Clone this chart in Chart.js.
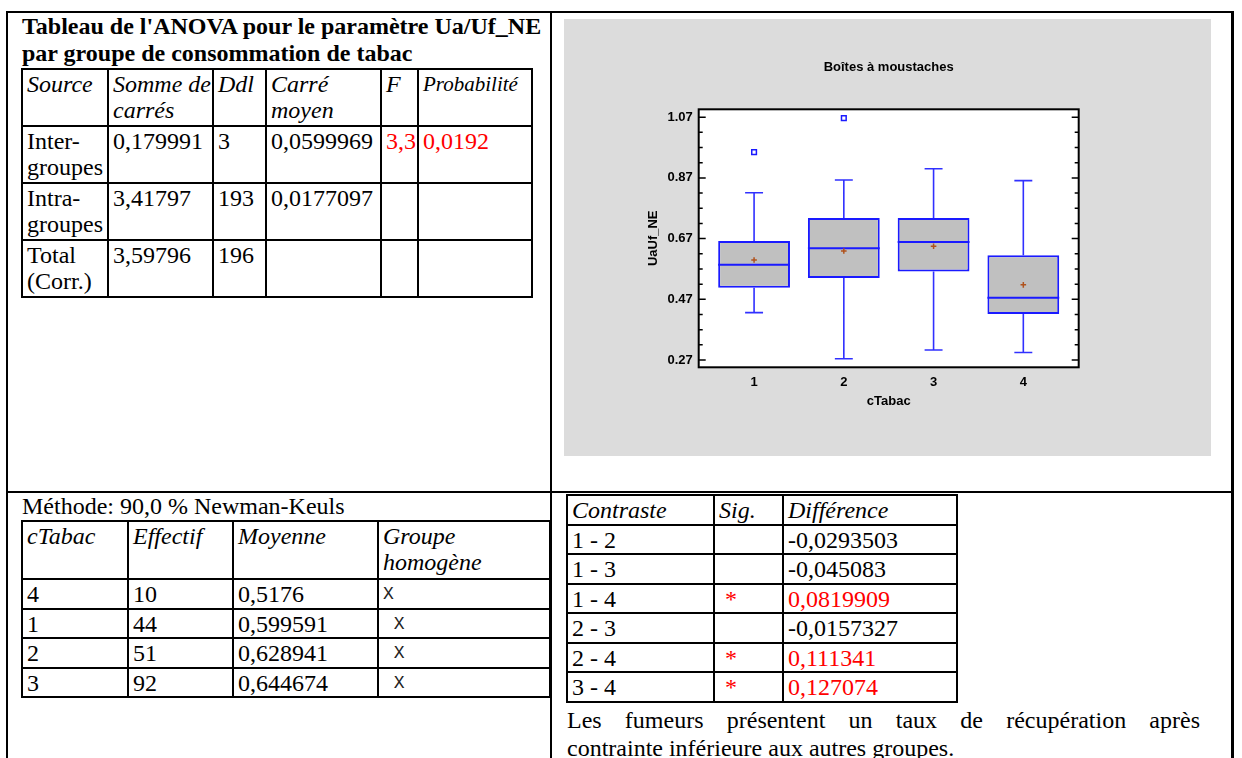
<!DOCTYPE html>
<html lang="fr">
<head>
<meta charset="utf-8">
<title>ANOVA Ua/Uf_NE par groupe de consommation de tabac</title>
<script src="https://cdn.jsdelivr.net/npm/chart.js@4.4.1/dist/chart.umd.min.js"></script>
<style>
  html, body { margin: 0; padding: 0; background: #fff; }
  body {
    width: 1242px; height: 758px; overflow: hidden; position: relative;
    font-family: "Liberation Serif", "Times New Roman", serif; font-size: 24px; color: #000;
  }
  .rule { position: absolute; background: #000; }
  .txt { position: absolute; line-height: 26px; white-space: nowrap; }
  table.doc { position: absolute; border-collapse: collapse; table-layout: fixed; }
  table.doc td {
    border: 2px solid #000; padding: 1px 0 0 4px; vertical-align: top;
    line-height: 26px; white-space: nowrap; overflow: visible;
  }
  .it { font-style: italic; }
  .red { color: #f00; }
  .mono { font-family: "Liberation Mono", "Courier New", monospace; font-size: 18px; color: #222; }
  #panel { position: absolute; left: 564px; top: 19px; }
</style>
</head>
<body>

<!-- cadre du document -->
<div class="rule" style="left:6px; top:11px; width:2px; height:760px"></div>
<div class="rule" style="left:6px; top:11px; width:1228px; height:2px"></div>
<div class="rule" style="left:1231px; top:11px; width:3px; height:760px"></div>
<div class="rule" style="left:550px; top:11px; width:2px; height:760px"></div>
<div class="rule" style="left:6px; top:491px; width:1228px; height:2px"></div>

<!-- tableau ANOVA -->
<div class="txt" style="left:22px; top:13px; font-weight:bold; line-height:27px">Tableau de l'ANOVA pour le paramètre Ua/Uf_NE<br>par groupe de consommation de tabac</div>
<table class="doc" style="left:21px; top:68px; width:512px">
  <colgroup><col style="width:86px"><col style="width:105px"><col style="width:53px"><col style="width:115px"><col style="width:37px"><col style="width:114px"></colgroup>
  <tr style="height:57px"><td class="it">Source</td><td class="it">Somme de<br>carrés</td><td class="it">Ddl</td><td class="it">Carré<br>moyen</td><td class="it">F</td><td class="it" style="font-size:21px">Probabilité</td></tr>
  <tr style="height:57px"><td>Inter-<br>groupes</td><td>0,179991</td><td>3</td><td>0,0599969</td><td class="red">3,3</td><td class="red">0,0192</td></tr>
  <tr style="height:57px"><td>Intra-<br>groupes</td><td>3,41797</td><td>193</td><td>0,0177097</td><td></td><td></td></tr>
  <tr style="height:57px"><td>Total<br>(Corr.)</td><td>3,59796</td><td>196</td><td></td><td></td><td></td></tr>
</table>

<!-- graphique -->
<canvas id="panel" width="647" height="437"></canvas>

<!-- Newman-Keuls -->
<div class="txt" style="left:22px; top:493px">Méthode: 90,0 % Newman-Keuls</div>
<table class="doc" style="left:21px; top:520px; width:530px">
  <colgroup><col style="width:106px"><col style="width:105px"><col style="width:145px"><col style="width:172px"></colgroup>
  <tr style="height:58px"><td class="it">cTabac</td><td class="it">Effectif</td><td class="it">Moyenne</td><td class="it">Groupe<br>homogène</td></tr>
  <tr style="height:29.5px"><td>4</td><td>10</td><td>0,5176</td><td class="mono">X</td></tr>
  <tr style="height:29.5px"><td>1</td><td>44</td><td>0,599591</td><td class="mono">&nbsp;X</td></tr>
  <tr style="height:29.5px"><td>2</td><td>51</td><td>0,628941</td><td class="mono">&nbsp;X</td></tr>
  <tr style="height:29.5px"><td>3</td><td>92</td><td>0,644674</td><td class="mono">&nbsp;X</td></tr>
</table>

<!-- contrastes -->
<table class="doc" style="left:566px; top:494px; width:392px">
  <colgroup><col style="width:147px"><col style="width:69px"><col style="width:174px"></colgroup>
  <tr style="height:29.5px"><td class="it">Contraste</td><td class="it">Sig.</td><td class="it">Différence</td></tr>
  <tr style="height:29.5px"><td>1 - 2</td><td></td><td>-0,0293503</td></tr>
  <tr style="height:29.5px"><td>1 - 3</td><td></td><td>-0,045083</td></tr>
  <tr style="height:29.5px"><td>1 - 4</td><td class="red">&nbsp;*</td><td class="red">0,0819909</td></tr>
  <tr style="height:29.5px"><td>2 - 3</td><td></td><td>-0,0157327</td></tr>
  <tr style="height:29.5px"><td>2 - 4</td><td class="red">&nbsp;*</td><td class="red">0,111341</td></tr>
  <tr style="height:29.5px"><td>3 - 4</td><td class="red">&nbsp;*</td><td class="red">0,127074</td></tr>
</table>
<div class="txt" style="left:567px; top:707px; width:633px; text-align:justify; text-align-last:justify">Les fumeurs présentent un taux de récupération après</div>
<div class="txt" style="left:567px; top:735px">contrainte inférieure aux autres groupes.</div>

<script>
// groupes de consommation de tabac
const xLabels = ['1', '2', '3', '4'];
const xPositions = [1, 2, 3, 4];

// boîtes à moustaches
const lowerWhisker = [0.426, 0.274, 0.303, 0.295];
const lowerQuartile = [0.508, 0.540, 0.562, 0.422];
const medians = [0.584, 0.638, 0.659, 0.475];
const upperQuartile = [0.662, 0.738, 0.738, 0.615];
const upperWhisker = [0.821, 0.863, 0.900, 0.861];
const means = [0.599591, 0.628941, 0.644674, 0.5176];

// points isolés
const outlierX = [1, 2];
const outlierY = [0.955, 1.067];

// graduations de l'axe vertical
const yMajorTicks = [0.27, 0.47, 0.67, 0.87, 1.07];
const yMinorTicks = [0.32, 0.37, 0.42, 0.52, 0.57, 0.62, 0.72, 0.77, 0.82, 0.92, 0.97, 1.02];

const FONT = 'Liberation Sans, Arial, sans-serif';
const BLUE = '#1a1aff';

const panelBackground = {
  id: 'panelBackground',
  beforeDraw(chart) {
    const { ctx, chartArea: a, width, height } = chart;
    ctx.save();
    ctx.fillStyle = '#dcdcdc';
    ctx.fillRect(0, 0, width, height);
    ctx.fillStyle = '#fff';
    ctx.fillRect(a.left, a.top, a.right - a.left, a.bottom - a.top);
    ctx.restore();
  }
};

// moustaches sous les boîtes, médianes par-dessus
const boxWhiskers = {
  id: 'boxWhiskers',
  beforeDatasetsDraw(chart) {
    const { ctx, scales: { x, y } } = chart;
    ctx.save();
    ctx.strokeStyle = '#3030ff';
    ctx.lineWidth = 1.6;
    ctx.beginPath();
    xPositions.forEach((pos, i) => {
      const cx = x.getPixelForValue(pos);
      const l = x.getPixelForValue(pos - 0.1);
      const r = x.getPixelForValue(pos + 0.1);
      const yHi = y.getPixelForValue(upperWhisker[i]);
      const yLo = y.getPixelForValue(lowerWhisker[i]);
      ctx.moveTo(cx, y.getPixelForValue(upperQuartile[i])); ctx.lineTo(cx, yHi);
      ctx.moveTo(cx, y.getPixelForValue(lowerQuartile[i])); ctx.lineTo(cx, yLo);
      ctx.moveTo(l, yHi); ctx.lineTo(r, yHi);
      ctx.moveTo(l, yLo); ctx.lineTo(r, yLo);
    });
    ctx.stroke();
    ctx.restore();
  },
  afterDatasetDraw(chart, args) {
    if (args.index !== 0) return;
    const { ctx, scales: { y } } = chart;
    const bars = chart.getDatasetMeta(0).data;
    ctx.save();
    ctx.strokeStyle = BLUE;
    ctx.lineWidth = 2;
    ctx.beginPath();
    bars.forEach((bar, i) => {
      const py = y.getPixelForValue(medians[i]);
      ctx.moveTo(bar.x - bar.width / 2, py);
      ctx.lineTo(bar.x + bar.width / 2, py);
    });
    ctx.stroke();
    ctx.restore();
  }
};

const frameAndTicks = {
  id: 'frameAndTicks',
  afterDraw(chart) {
    const { ctx, chartArea: a, scales: { y } } = chart;
    ctx.save();
    ctx.strokeStyle = '#000';
    ctx.lineWidth = 1.5;
    ctx.beginPath();
    const mark = (values, len) => values.forEach(v => {
      const py = y.getPixelForValue(v);
      ctx.moveTo(a.left, py); ctx.lineTo(a.left + len, py);
      ctx.moveTo(a.right - len, py); ctx.lineTo(a.right, py);
    });
    mark(yMajorTicks, 7);
    mark(yMinorTicks, 4);
    ctx.stroke();
    ctx.lineWidth = 2;
    ctx.strokeRect(a.left, a.top, a.right - a.left, a.bottom - a.top);
    ctx.restore();
  }
};

new Chart(document.getElementById('panel'), {
  type: 'bar',
  data: {
    datasets: [
      {
        type: 'bar',
        label: 'Boîtes',
        data: xPositions.map((p, i) => ({ x: p, y: [lowerQuartile[i], upperQuartile[i]] })),
        backgroundColor: '#c0c0c0',
        borderColor: BLUE,
        borderWidth: 2,
        borderSkipped: false,
        categoryPercentage: 1,
        barPercentage: 0.8,
        order: 3
      },
      {
        type: 'scatter',
        label: 'Moyenne',
        data: xPositions.map((p, i) => ({ x: p, y: means[i] })),
        pointStyle: 'cross',
        pointRadius: 2.8,
        borderColor: '#b0521c',
        borderWidth: 1.5,
        order: 2
      },
      {
        type: 'scatter',
        label: 'Points isolés',
        data: outlierX.map((p, i) => ({ x: p, y: outlierY[i] })),
        pointStyle: 'rect',
        pointRadius: 3.3,
        backgroundColor: '#fff',
        borderColor: BLUE,
        borderWidth: 1.5,
        order: 1
      }
    ]
  },
  options: {
    responsive: false,
    animation: false,
    devicePixelRatio: 1,
    layout: { padding: { left: 0, right: 132.3, top: 0, bottom: 0 } },
    plugins: {
      legend: { display: false },
      tooltip: { enabled: false },
      title: {
        display: true,
        fullSize: false,
        text: 'Boîtes à moustaches',
        color: '#000',
        font: { family: FONT, size: 13, weight: 'bold', lineHeight: 1.2 },
        padding: { top: 41, bottom: 33.7 }
      }
    },
    scales: {
      x: {
        type: 'linear',
        min: 0.383,
        max: 4.617,
        offset: false,
        afterBuildTicks: s => { s.ticks = xPositions.map(v => ({ value: v })); },
        afterFit: s => { s.height = 88.7; },
        grid: { display: false, drawTicks: false },
        border: { display: false },
        ticks: {
          callback: v => xLabels[xPositions.indexOf(v)],
          padding: 7,
          autoSkip: false,
          maxRotation: 0,
          color: '#000',
          font: { family: FONT, size: 13, weight: 'bold' }
        },
        title: {
          display: true,
          text: 'cTabac',
          color: '#000',
          font: { family: FONT, size: 13, weight: 'bold', lineHeight: 1.2 },
          padding: { top: 0, bottom: 47 }
        }
      },
      y: {
        min: 0.246,
        max: 1.096,
        afterBuildTicks: s => { s.ticks = yMajorTicks.map(v => ({ value: v })); },
        afterFit: s => { s.width = 134.7; },
        grid: { display: false, drawTicks: false },
        border: { display: false },
        ticks: {
          callback: v => v.toFixed(2),
          padding: 6,
          color: '#000',
          font: { family: FONT, size: 13, weight: 'bold' }
        },
        title: {
          display: true,
          text: 'UaUf_NE',
          color: '#000',
          font: { family: FONT, size: 13, weight: 'bold', lineHeight: 1.2 },
          padding: { top: 82, bottom: 0 }
        }
      }
    }
  },
  plugins: [panelBackground, boxWhiskers, frameAndTicks]
});
</script>
</body>
</html>
